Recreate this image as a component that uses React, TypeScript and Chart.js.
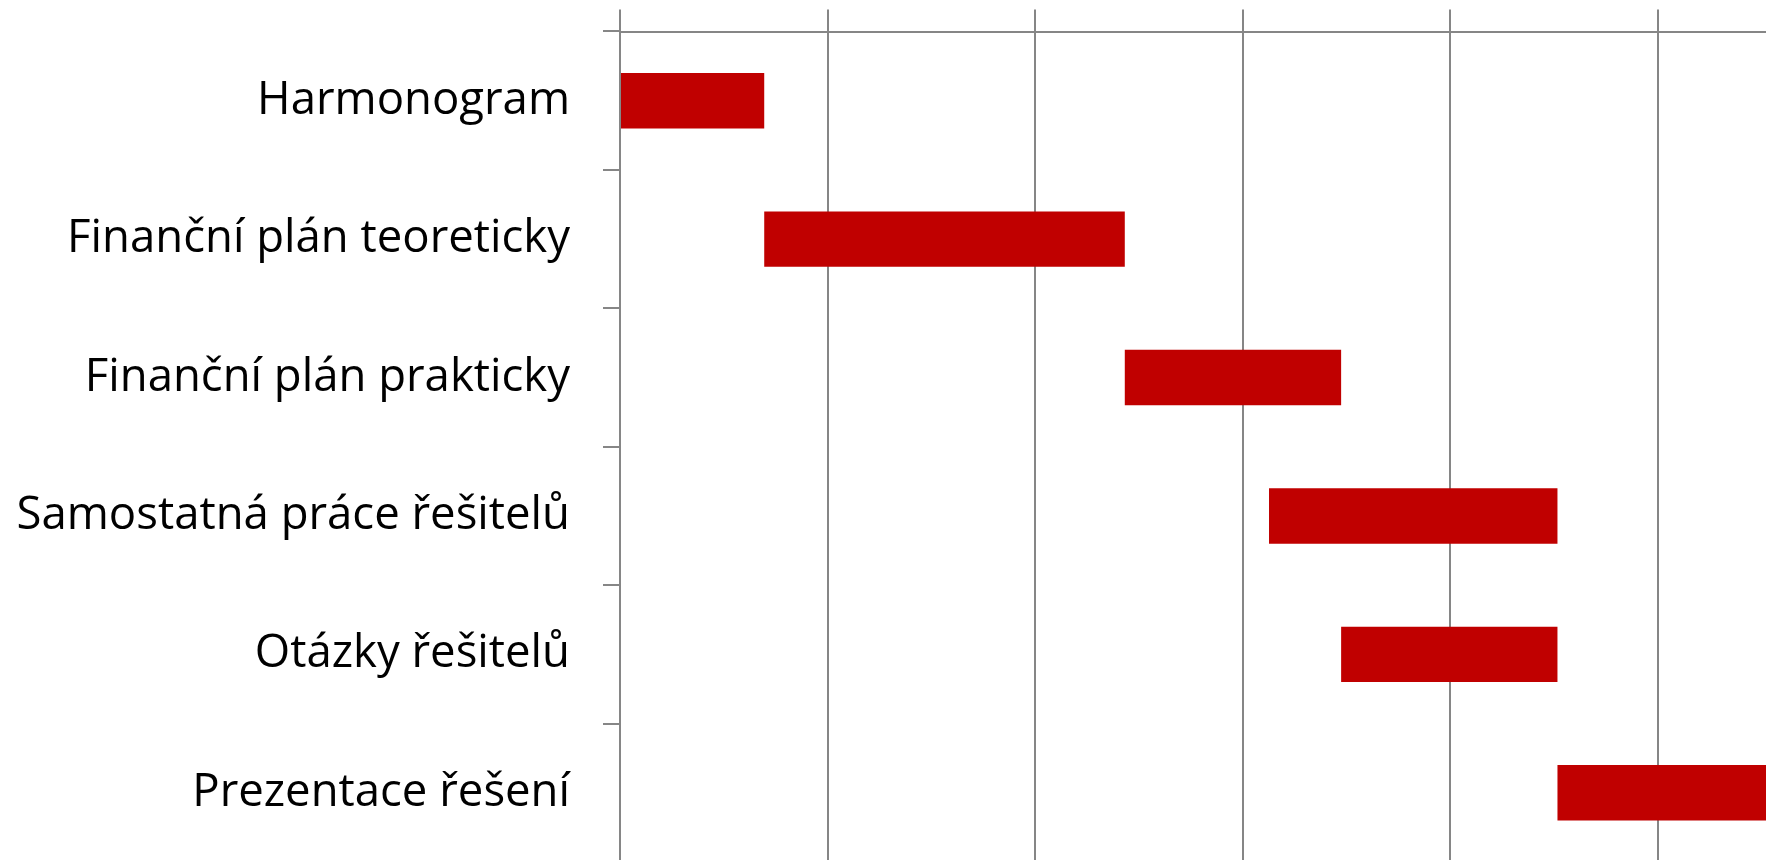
import React, { useEffect, useRef } from "react";
import { Chart, registerables } from "chart.js";

Chart.register(...registerables);

const categories = [
  "Harmonogram",
  "Finanční plán teoreticky",
  "Finanční plán prakticky",
  "Samostatná práce řešitelů",
  "Otázky řešitelů",
  "Prezentace řešení",
];
// start / end in weeks
const startWeeks = [0, 2, 7, 9, 10, 13];
const endWeeks = [2, 7, 10, 13, 13, 16];
const gridStep = 2.878;

const GRAY = "#868686";
const RED = "#C00000";

export default function App() {
  const ref = useRef<HTMLCanvasElement | null>(null);
  useEffect(() => {
    if (!ref.current) return;
    const chart = new Chart(ref.current, {
      type: "bar",
      data: {
        labels: categories,
        datasets: [
          {
            data: categories.map((_, i) => [startWeeks[i], endWeeks[i]]) as any,
            backgroundColor: RED,
            borderWidth: 0,
            barPercentage: 0.4,
            categoryPercentage: 1,
          },
        ],
      },
      options: {
        indexAxis: "y",
        animation: false,
        responsive: true,
        maintainAspectRatio: false,
        layout: { padding: 0 },
        plugins: { legend: { display: false }, tooltip: { enabled: false } },
        scales: {
          x: {
            position: "top",
            min: 0,
            max: 17.75,
            ticks: { display: false, stepSize: gridStep },
            grid: {
              color: GRAY,
              lineWidth: 2,
              tickLength: 22,
              drawTicks: true,
            },
            border: { color: GRAY, width: 2 },
            afterFit: (s: any) => {
              s.height = 31.5;
              s.paddingLeft = 0;
              s.paddingRight = 0;
              s.paddingTop = 0;
              s.paddingBottom = 0;
            },
          },
          y: {
            ticks: {
              color: "#000",
              padding: 33,
              font: { family: "'Open Sans', sans-serif", size: 45.5 },
            },
            grid: {
              offset: true,
              drawOnChartArea: false,
              drawTicks: true,
              tickLength: 17,
              color: GRAY,
              lineWidth: 2,
            },
            border: { color: GRAY, width: 2 },
            afterFit: (s: any) => {
              s.width = 620;
              s.paddingTop = 0;
              s.paddingBottom = 0;
              s.paddingLeft = 0;
              s.paddingRight = 0;
            },
          },
        },
      },
    });
    return () => chart.destroy();
  }, []);
  return (
    <div
      style={{
        position: "fixed",
        left: 0,
        top: 0,
        width: 1766,
        height: 860,
        overflow: "hidden",
        background: "#fff",
      }}
    >
      <div style={{ position: "absolute", left: 0, top: 0, width: 1900, height: 862 }}>
        <canvas ref={ref} />
      </div>
    </div>
  );
}
